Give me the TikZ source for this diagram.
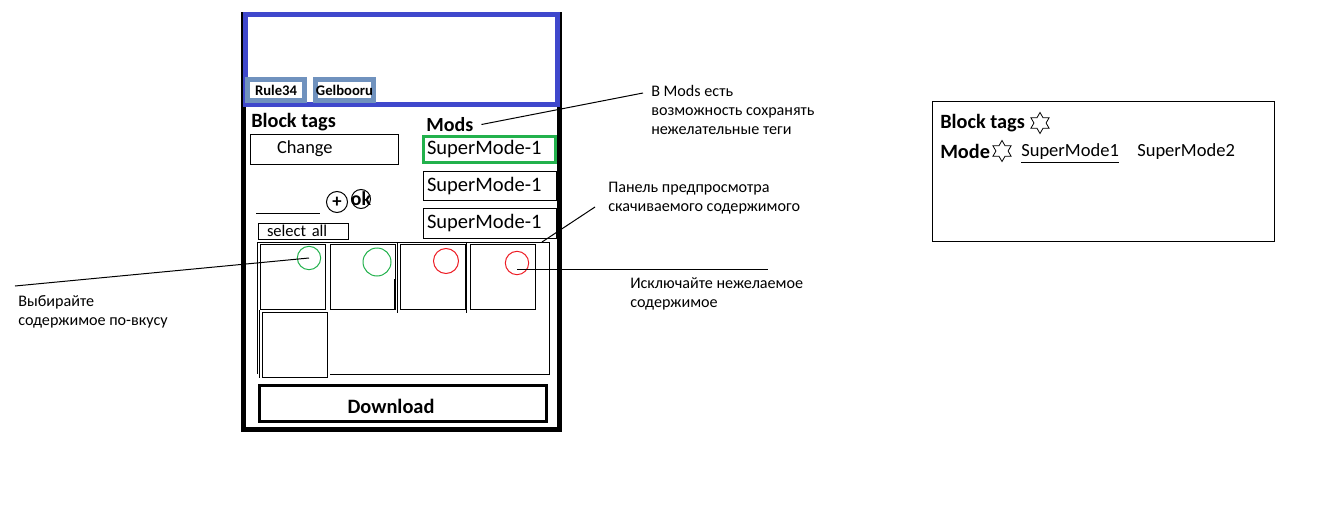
\documentclass[tikz,border=0pt]{standalone}
\usepackage{fontspec}
\setmainfont{Carlito}
\usetikzlibrary{positioning,shapes.geometric}
\definecolor{headblue}{RGB}{63,72,204}
\definecolor{tabblue}{RGB}{112,146,190}
\definecolor{pickgreen}{RGB}{34,177,76}
\definecolor{dropred}{RGB}{237,28,36}
\tikzset{
  box/.style={draw, line width=0.75pt, inner sep=0pt},
  title/.style={anchor=west, inner sep=0pt, font=\bfseries\fontsize{15.2}{18}\selectfont},
  tab/.style={draw=tabblue, line width=3.75pt, inner sep=0pt, minimum width=42.75pt, minimum height=15.75pt,
              font=\bfseries\fontsize{11}{13}\selectfont},
  modbox/.style={box, inner xsep=3pt, text width=93.75pt, align=left, minimum height=21.75pt,
                 font=\fontsize{15.4}{18}\selectfont},
  thumb/.style={box, minimum size=48.75pt},
  ring/.style={circle, draw, line width=0.75pt, inner sep=0pt},
  pick/.style={ring, draw=pickgreen},
  drop/.style={ring, draw=dropred},
  note/.style={anchor=north west, inner sep=0pt, align=left, font=\fontsize{12.1}{14.25}\selectfont},
  leader/.style={line width=0.75pt},
  hexstar/.style={star, star points=6, star point ratio=1.73, draw, line width=0.6pt, inner sep=0pt, minimum size=15.75pt},
  plain/.style={anchor=west, inner sep=0pt, font=\fontsize{13.9}{16}\selectfont},
}

\begin{document}
\begin{tikzpicture}[x=0.75pt, y=-0.75pt]
  \useasboundingbox (0,0) rectangle (1343,514);

  % phone and header
  \node[draw, line width=3.75pt, minimum width=237pt, minimum height=311.6pt] (phone) at (401,222.25) {};
  \node[draw=headblue, line width=3.75pt, minimum width=234pt, minimum height=67.5pt] (head) at (401.5,59.5) {};
  \node[tab] (rule) at (276,90) {Rule34};
  \node[tab] (gelbooru) at (344.5,90) {Gelbooru};

  % tags and mods
  \node[title] (blocktags) at (251,122.5) {Block tags};
  \node[title, font=\bfseries\fontsize{15}{18}\selectfont] (mods) at (426,124.5) {Mods};
  \node[box, inner xsep=20.25pt, text width=70.5pt, align=left, minimum height=22.5pt,
        font=\fontsize{13.8}{16}\selectfont] (change) at (324,149) {Change};
  \node[modbox, draw=pickgreen, line width=2.25pt, inner xsep=2.6pt, minimum height=19.5pt] (mod1) at (489.5,149.5) {SuperMode-1};
  \node[modbox, below=5.25pt of mod1] (mod2) {SuperMode-1};
  \node[modbox, below=5.25pt of mod2, minimum height=22.5pt] (mod3) {SuperMode-1};

  \draw[line width=0.75pt] (256,213) -- (320,213);
  \node[ring, minimum size=15.75pt, label={[font=\bfseries\fontsize{14}{16}\selectfont]center:+}] (plus) at (337,202) {};
  \node[ring, minimum size=14.25pt, label={[font=\bfseries\fontsize{14.8}{16}\selectfont]center:ok}] (ok) at (361,199) {};
  \node[box, inner xsep=6.75pt, text width=54pt, align=left, minimum height=12pt,
        font=\fontsize{12.4}{14}\selectfont] (selectall) at (303,231) {select all};

  % preview panel
  \node[minimum width=219pt, minimum height=99pt, inner sep=0pt, outer sep=0pt] (panel) at (403,308) {};
  \draw[line width=0.75pt] ([xshift=54.75pt]panel.south west) -- (panel.south east) -- (panel.north east)
    -- (panel.north west) -- (panel.south west);
  \node[thumb] (thumb1) at (292.5,276.5) {};
  \node[thumb, right=3pt of thumb1] (thumb2) {};
  \node[thumb, right=3pt of thumb2] (thumb3) {};
  \node[thumb, right=3pt of thumb3] (thumb4) {};
  \node[thumb] (thumb5) at (294.5,344.5) {};
  \draw[line width=0.75pt] (259,310) -- (259,378);
  \draw[line width=0.75pt] (394,279) -- (394,310);
  \draw[line width=0.75pt] (397,243) -- (397,313);
  \draw[line width=0.75pt] (466,243) -- (466,313);

  \node[pick, minimum size=17.5pt] (pick1) at (309,258) {};
  \node[pick, minimum size=21pt] (pick2) at (377,262) {};
  \node[drop, minimum size=18.75pt] (drop1) at (446,261) {};
  \node[drop, minimum size=17.5pt] (drop2) at (517,263) {};

  \node[draw, line width=2.25pt, minimum width=215.25pt, minimum height=27pt,
        label={[font=\bfseries\fontsize{15.3}{18}\selectfont, xshift=-9pt, yshift=-1.9pt]center:Download}] (download) at (403,403.5) {};

  % notes
  \node[note] (modsnote) at (651,85) {В Mods есть\\возможность сохранять\\нежелательные теги};
  \node[note] (panelnote) at (608,182) {Панель предпросмотра\\скачиваемого содержимого};
  \node[note] (dropnote) at (630,277) {Исключайте нежелаемое\\содержимое};
  \node[note] (picknote) at (18,295) {Выбирайте\\содержимое по-вкусу};

  \coordinate (modstip) at (643,93);
  \coordinate (paneltip) at (595,207);
  \coordinate (droptip) at (768,269);
  \coordinate (picktip) at (15,286);
  \draw[leader] ([xshift=6pt]mods.east) -- (modstip);
  \draw[leader] (paneltip) -- ([xshift=-5.25pt]panel.north east);
  \draw[leader] (drop2 |- droptip) -- (droptip);
  \draw[leader] (picktip) -- (pick1.center);

  % settings panel
  \node[box, minimum width=256.5pt, minimum height=105pt] (prefs) at (1103,171) {};
  \node[title] (blocktitle) at (940,123.5) {Block tags};
  \node[hexstar] (blockstar) at (1040,123) {};
  \node[title] (modetitle) at (940,151.5) {Mode};
  \node[hexstar] (modestar) at (1002,151) {};
  \node[plain] (sm1) at (1021,152) {SuperMode1};
  \node[plain] (sm2) at (1137,152) {SuperMode2};
  \draw[line width=0.75pt] ([yshift=-2pt]sm1.south west) -- ([yshift=-2pt]sm1.south east);
\end{tikzpicture}
\end{document}
